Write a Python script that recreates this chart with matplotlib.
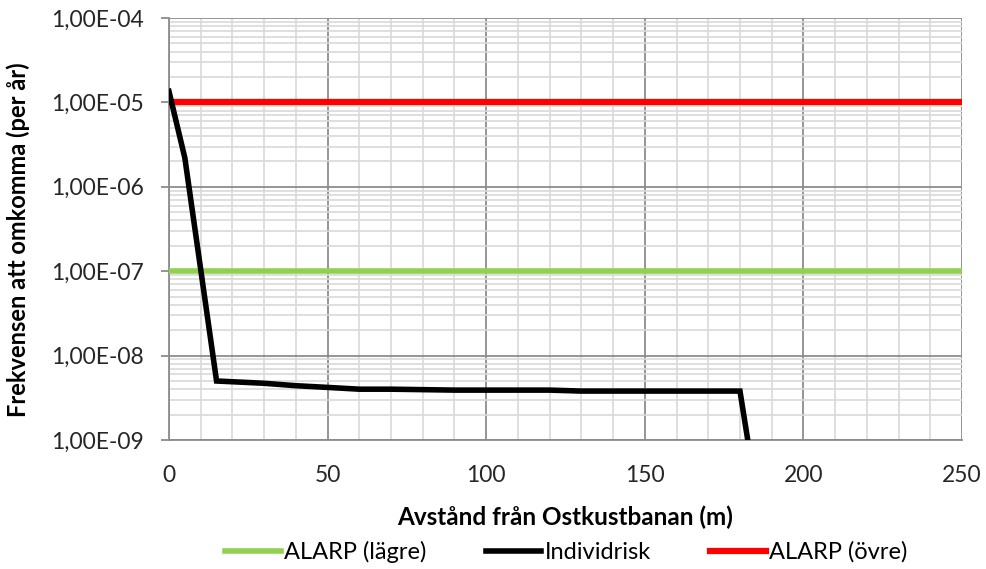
import matplotlib
matplotlib.use('Agg')
import matplotlib.pyplot as plt
from matplotlib.ticker import LogLocator, FuncFormatter, MultipleLocator, NullFormatter

# Data
distance = [0, 5, 10, 15, 20, 25, 30, 40, 50, 60, 70, 80, 90, 100, 110, 120, 125, 130,
            140, 150, 160, 170, 180, 185]
individrisk = [1.35e-5, 2.2e-6, 1.05e-7, 5.0e-9, 4.9e-9, 4.8e-9, 4.7e-9, 4.4e-9, 4.2e-9,
               4.0e-9, 4.0e-9, 3.95e-9, 3.9e-9, 3.9e-9, 3.9e-9, 3.9e-9, 3.85e-9, 3.8e-9,
               3.8e-9, 3.8e-9, 3.8e-9, 3.8e-9, 3.8e-9, 2.5e-10]
x_range = [0, 250]
alarp_lower = 1e-7
alarp_upper = 1e-5

plt.rcParams['font.family'] = ['Lato', 'DejaVu Sans']

fig = plt.figure(figsize=(9.87, 5.69), dpi=100)
ax = fig.add_axes([0.1712, 0.2267, 0.8035, 0.7417])

ax.plot(x_range, [alarp_lower] * 2, color='#92D050', lw=4, label='ALARP (lägre)', zorder=3)
ax.plot(distance, individrisk, color='black', lw=4, label='Individrisk', zorder=4,
        solid_joinstyle='miter')
ax.plot(x_range, [alarp_upper] * 2, color='#FF0000', lw=4.5, label='ALARP (övre)', zorder=3)

ax.set_yscale('log')
ax.set_xlim(0, 250)
ax.set_ylim(1e-9, 1e-4)

ax.xaxis.set_major_locator(MultipleLocator(50))
ax.xaxis.set_minor_locator(MultipleLocator(10))
ax.yaxis.set_major_locator(LogLocator(base=10, numticks=10))
ax.yaxis.set_minor_locator(LogLocator(base=10, subs=range(2, 10), numticks=20))
ax.yaxis.set_minor_formatter(NullFormatter())
ax.yaxis.set_major_formatter(FuncFormatter(lambda v, p: f"{v:.2E}".replace('.', ',')))

ax.grid(which='major', color='#8C8C8C', lw=1.3)
ax.grid(which='minor', color='#D9D9D9', lw=1.2)
ax.set_axisbelow(True)

for s in ['top', 'right']:
    ax.spines[s].set_visible(False)
for s in ['left', 'bottom']:
    ax.spines[s].set_color('#8C8C8C')
    ax.spines[s].set_linewidth(1.3)

ax.tick_params(axis='y', which='major', length=6, width=1.3, color='#8C8C8C',
               labelsize=16.5, pad=12, labelcolor='#262626')
ax.tick_params(axis='y', which='minor', length=0)
ax.tick_params(axis='x', which='both', length=0, labelsize=16.5, pad=18, labelcolor='#262626')

ax.set_xlabel('Avstånd från Ostkustbanan (m)', fontsize=17.5, fontweight='bold')
ax.set_ylabel('Frekvensen att omkomma (per år)', fontsize=17, fontweight='bold')
ax.xaxis.set_label_coords(0.5, -0.155)
ax.yaxis.set_label_coords(-0.175, 0.474)

fig.legend(loc='center', bbox_to_anchor=(0.574, 0.03), ncol=3, frameon=False,
           fontsize=17, handlelength=2.35, handletextpad=0.15, columnspacing=2.5)

fig.savefig('out.png', dpi=100)
